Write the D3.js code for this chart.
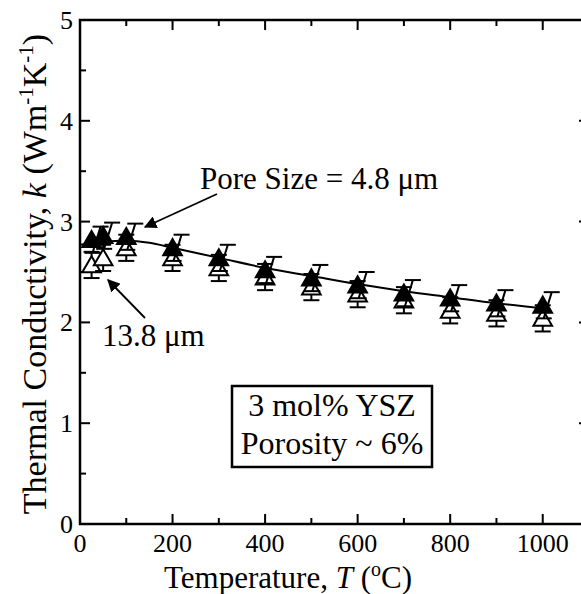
<!DOCTYPE html>
<html>
<head>
<meta charset="utf-8">
<script src="https://cdn.jsdelivr.net/npm/d3@7"></script>
<style>
  body { margin: 0; background: white; }
  text { font-family: "Liberation Serif", "DejaVu Serif", serif; fill: black; }
</style>
</head>
<body>
<div id="container"></div>
<script>
let w = 581;
let h = 594;

// data
let temps = [25, 50, 100, 200, 300, 400, 500, 600, 700, 800, 900, 1000];
let kPore48 = [2.82, 2.86, 2.85, 2.74, 2.64, 2.52, 2.44, 2.37, 2.29, 2.24, 2.19, 2.17];
let kPore138 = [2.57, 2.64, 2.74, 2.64, 2.54, 2.45, 2.35, 2.28, 2.22, 2.12, 2.09, 2.04];
let errBar = [0.13, 0.13, 0.13, 0.13, 0.13, 0.13, 0.13, 0.13, 0.13, 0.13, 0.13, 0.13];
let fitT = [0, 50, 100, 150, 200, 300, 400, 500, 600, 700, 800, 900, 1000];
let fitK = [2.77, 2.80, 2.81, 2.79, 2.74, 2.64, 2.54, 2.46, 2.38, 2.31, 2.25, 2.19, 2.14];
let xTicks = [0, 200, 400, 600, 800, 1000];
let yTicks = [0, 1, 2, 3, 4, 5];

let viz = d3.select("#container").append("svg")
    .attr("width", w)
    .attr("height", h)
    .style("display", "block")
;

let xScale = d3.scaleLinear().domain([0, 1100]).range([80, 589]);
let yScale = d3.scaleLinear().domain([0, 5]).range([524, 20]);

// frame
viz.append("rect")
    .attr("x", xScale(0)).attr("y", yScale(5))
    .attr("width", xScale(1100) - xScale(0))
    .attr("height", yScale(0) - yScale(5))
    .attr("fill", "none").attr("stroke", "black").attr("stroke-width", 2.5)
;

// inward ticks on all four sides
let xMinor = d3.range(100, 1100, 200);
let yMinor = d3.range(0.5, 5, 1);
let tickGroup = viz.append("g").attr("stroke", "black").attr("stroke-width", 2);
xTicks.concat(xMinor).forEach(function(t){
  let len = xTicks.includes(t) ? 10 : 6;
  tickGroup.append("line").attr("x1", xScale(t)).attr("x2", xScale(t))
    .attr("y1", yScale(0)).attr("y2", yScale(0) - len);
  tickGroup.append("line").attr("x1", xScale(t)).attr("x2", xScale(t))
    .attr("y1", yScale(5)).attr("y2", yScale(5) + len);
});
yTicks.concat(yMinor).forEach(function(v){
  let len = yTicks.includes(v) ? 10 : 6;
  tickGroup.append("line").attr("y1", yScale(v)).attr("y2", yScale(v))
    .attr("x1", xScale(0)).attr("x2", xScale(0) + len);
  tickGroup.append("line").attr("y1", yScale(v)).attr("y2", yScale(v))
    .attr("x1", xScale(1100)).attr("x2", xScale(1100) - len);
});

// tick labels
viz.selectAll(".xlab").data(xTicks).enter().append("text")
    .attr("x", d => xScale(d)).attr("y", 552)
    .attr("text-anchor", "middle").attr("font-size", 26)
    .text(d => d)
;
viz.selectAll(".ylab").data(yTicks).enter().append("text")
    .attr("x", 73).attr("y", d => yScale(d) + 9)
    .attr("text-anchor", "end").attr("font-size", 26)
    .text(d => d)
;

// axis titles
let xt = viz.append("text").attr("x", 288).attr("y", 588)
    .attr("text-anchor", "middle").attr("font-size", 31);
xt.append("tspan").text("Temperature, ");
xt.append("tspan").attr("font-style", "italic").text("T");
xt.append("tspan").text(" (");
xt.append("tspan").attr("font-size", 20).attr("dy", -12).text("o");
xt.append("tspan").attr("dy", 12).text("C)");

let yt = viz.append("text")
    .attr("transform", "translate(46," + 274 + ") rotate(-90)")
    .attr("text-anchor", "middle").attr("font-size", 34);
yt.append("tspan").text("Thermal Conductivity, ");
yt.append("tspan").attr("font-style", "italic").text("k");
yt.append("tspan").text(" (Wm");
yt.append("tspan").attr("font-size", 21).attr("dy", -13).text("-1");
yt.append("tspan").attr("dy", 13).text("K");
yt.append("tspan").attr("font-size", 21).attr("dy", -13).text("-1");
yt.append("tspan").attr("dy", 13).text(")");

// fit curve
let fitLine = d3.line().x(d => xScale(d[0])).y(d => yScale(d[1])).curve(d3.curveMonotoneX);
viz.append("path")
    .datum(fitT.map((t, i) => [t, fitK[i]]))
    .attr("d", fitLine)
    .attr("fill", "none").attr("stroke", "black").attr("stroke-width", 2)
;

let tri = d3.symbol().type(d3.symbolTriangle).size(150);

// open triangles (13.8 um) with vertical error bars
let openGroup = viz.append("g").attr("stroke", "black").attr("stroke-width", 2);
temps.forEach(function(t, i){
  let cx = xScale(t);
  let lo = yScale(kPore138[i] - errBar[i]);
  let hi = yScale(kPore138[i] + errBar[i]);
  openGroup.append("line").attr("x1", cx).attr("x2", cx).attr("y1", lo).attr("y2", hi);
  openGroup.append("line").attr("x1", cx - 8).attr("x2", cx + 8).attr("y1", lo).attr("y2", lo);
  openGroup.append("line").attr("x1", cx - 8).attr("x2", cx + 8).attr("y1", hi).attr("y2", hi);
  openGroup.append("path").attr("d", tri)
    .attr("transform", "translate(" + cx + "," + (yScale(kPore138[i]) + 2) + ")")
    .attr("fill", "white");
});

// filled triangles (4.8 um) with slanted error bars
let fillGroup = viz.append("g").attr("stroke", "black").attr("stroke-width", 2);
temps.forEach(function(t, i){
  let cx = xScale(t);
  let lo = yScale(kPore48[i] - errBar[i]);
  let hi = yScale(kPore48[i] + errBar[i]);
  fillGroup.append("line").attr("x1", cx + 1).attr("x2", cx + 9).attr("y1", lo).attr("y2", hi);
  fillGroup.append("line").attr("x1", cx - 7).attr("x2", cx + 9).attr("y1", lo).attr("y2", lo);
  fillGroup.append("line").attr("x1", cx + 1).attr("x2", cx + 17).attr("y1", hi).attr("y2", hi);
  fillGroup.append("path").attr("d", tri)
    .attr("transform", "translate(" + cx + "," + (yScale(kPore48[i]) + 2) + ")")
    .attr("fill", "black");
});

// annotations
let ann = viz.append("g");
ann.append("text").attr("x", 200).attr("y", 189).attr("font-size", 31).text("Pore Size = 4.8 \u03bcm");
ann.append("text").attr("x", 102).attr("y", 346).attr("font-size", 31).text("13.8 \u03bcm");

viz.append("defs").append("marker")
    .attr("id", "head").attr("viewBox", "0 0 10 10")
    .attr("refX", 9).attr("refY", 5)
    .attr("markerWidth", 7).attr("markerHeight", 7)
    .attr("orient", "auto")
  .append("path").attr("d", "M0,0 L10,5 L0,10 Z").attr("fill", "black");

ann.append("line").attr("x1", 217).attr("y1", 194).attr("x2", 145).attr("y2", 227)
    .attr("stroke", "black").attr("stroke-width", 1.8).attr("marker-end", "url(#head)");
ann.append("line").attr("x1", 145).attr("y1", 318).attr("x2", 108).attr("y2", 280)
    .attr("stroke", "black").attr("stroke-width", 1.8).attr("marker-end", "url(#head)");

// label box
ann.append("rect").attr("x", 232).attr("y", 386).attr("width", 200).attr("height", 81)
    .attr("fill", "white").attr("stroke", "black").attr("stroke-width", 2.5);
ann.append("text").attr("x", 332).attr("y", 416).attr("text-anchor", "middle").attr("font-size", 32)
    .text("3 mol% YSZ");
ann.append("text").attr("x", 332).attr("y", 454).attr("text-anchor", "middle").attr("font-size", 32)
    .text("Porosity ~ 6%");
</script>
</body>
</html>
